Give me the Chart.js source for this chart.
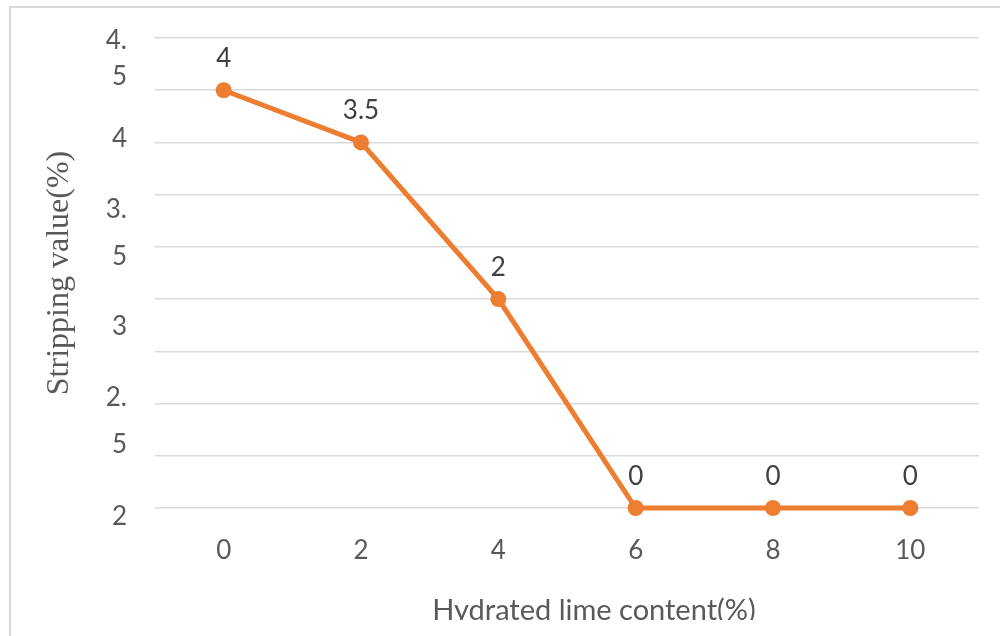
<!DOCTYPE html>
<html><head><meta charset="utf-8">
<script src="https://cdn.jsdelivr.net/npm/chart.js@4.4.1/dist/chart.umd.min.js"></script>
<style>
html,body{margin:0;padding:0;background:#fff;overflow:hidden;width:1000px;height:636px;}
#clip{position:absolute;left:0;top:0;width:1000px;height:620px;overflow:hidden;}
#frame{position:absolute;left:9px;top:6px;width:1000px;height:700px;border-left:2px solid #d9d9d9;border-top:2px solid #d9d9d9;}
</style></head><body>
<div id="frame"></div>
<div id="clip"><canvas id="c" width="1000" height="640" style="width:1000px;height:640px"></canvas></div>
<script>
// ---- data ----
const categories = ['0', '2', '4', '6', '8', '10'];
const strippingValues = [4, 3.5, 2, 0, 0, 0];
const yTickLabels = ['4.', '5', '4', '3.', '5', '3', '2.', '5', '2'];
const yTickLabelValues = [4.471, 4.127, 3.533, 2.853, 2.403, 1.733, 1.053, 0.603, -0.086];
const yMin = 0, yMax = 4.5, yStep = 0.5;
const xTitle = 'Hydrated lime content(%)';
const yTitle = 'Stripping value(%)';

const TICK_FONT = {family: 'Lato', size: 26};

const dataLabelPlugin = {
  id: 'dataLabels',
  afterDatasetsDraw(chart) {
    const ctx = chart.ctx;
    const meta = chart.getDatasetMeta(0);
    ctx.save();
    ctx.font = '26px Lato';
    ctx.fillStyle = '#404040';
    ctx.textAlign = 'center';
    ctx.textBaseline = 'middle';
    meta.data.forEach((pt, i) => {
      ctx.fillText(String(strippingValues[i]), pt.x, pt.y - 31.5);
    });
    ctx.restore();
  }
};
const xTitlePlugin = {
  id: 'xTitleShifted',
  afterDraw(chart) {
    const {ctx, chartArea} = chart;
    ctx.save();
    ctx.font = '29px Lato';
    ctx.fillStyle = '#595959';
    ctx.textAlign = 'center';
    ctx.textBaseline = 'alphabetic';
    ctx.fillText(xTitle, (chartArea.left + chartArea.right) / 2 + 27, chartArea.bottom + 112);
    ctx.restore();
  }
};

new Chart(document.getElementById('c'), {
  type: 'line',
  data: {
    labels: categories,
    datasets: [{
      data: strippingValues,
      yAxisID: 'y',
      xAxisID: 'x',
      borderColor: '#ED7D31',
      backgroundColor: '#ED7D31',
      borderWidth: 5,
      pointRadius: 8,
      pointBorderWidth: 0,
      pointBackgroundColor: '#ED7D31',
      tension: 0,
      clip: false
    }]
  },
  options: {
    responsive: false,
    animation: false,
    devicePixelRatio: 1,
    layout: {padding: {top: 38, right: 21, bottom: 0, left: 0}},
    plugins: {legend: {display: false}, tooltip: {enabled: false}},
    scales: {
      yLabels: {
        type: 'linear', position: 'left', min: yMin, max: yMax,
        grid: {display: false, drawTicks: false},
        border: {display: false},
        afterBuildTicks: s => { s.ticks = yTickLabelValues.map(v => ({value: v})); },
        ticks: {autoSkip: false, padding: 28, color: '#595959', font: TICK_FONT,
          callback: (v, i) => yTickLabels[i]},
        title: {display: true, text: yTitle, color: '#595959',
          font: {family: 'Liberation Serif', size: 32}, padding: {top: 40, bottom: 0}},
        afterFit: s => { s.width = 155; s.paddingTop = 0; s.paddingBottom = 0; }
      },
      y: {
        type: 'linear', position: 'left', min: yMin, max: yMax,
        ticks: {display: false, stepSize: yStep},
        grid: {color: '#d9d9d9', lineWidth: 1.5, drawTicks: false},
        border: {display: false},
        afterFit: s => { s.width = 0; s.paddingTop = 0; s.paddingBottom = 0; }
      },
      x: {
        type: 'category', offset: true,
        grid: {display: false, drawTicks: false},
        border: {display: false},
        ticks: {padding: 27, color: '#595959', font: TICK_FONT, maxRotation: 0, autoSkip: false},
        afterFit: s => { s.height = 132; }
      }
    }
  },
  plugins: [dataLabelPlugin, xTitlePlugin]
});
</script>
</body></html>
